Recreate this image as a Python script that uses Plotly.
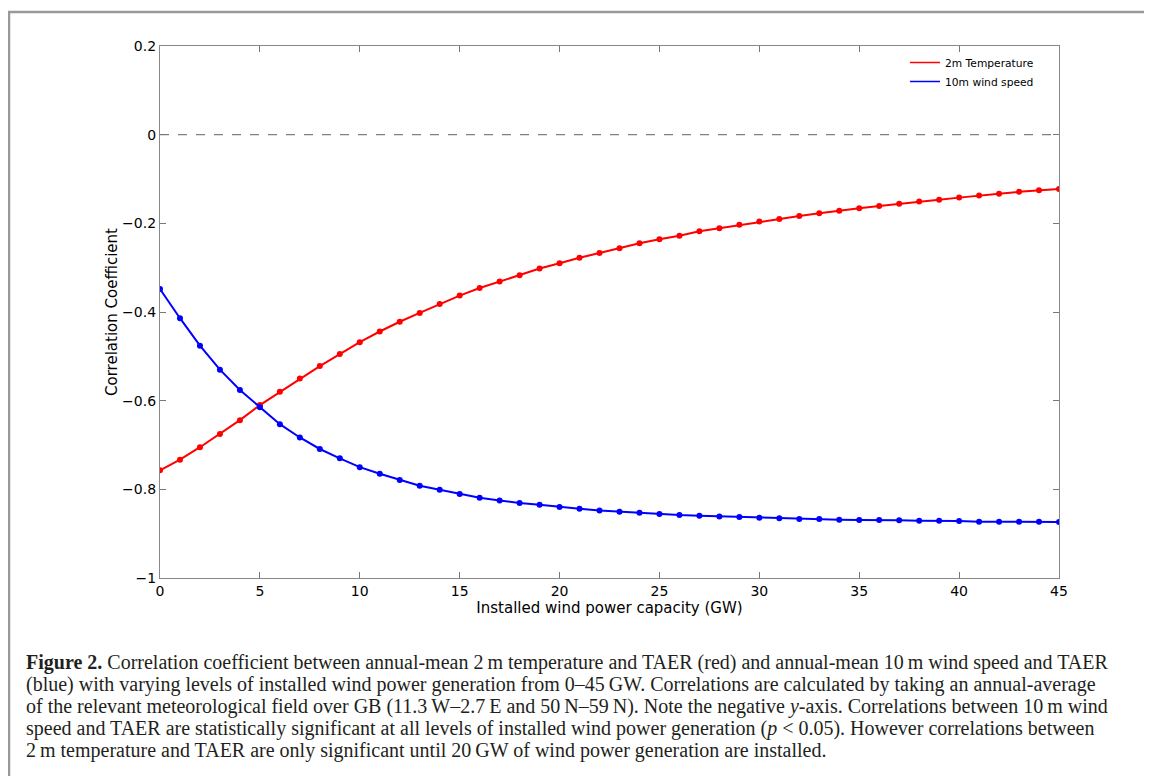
import plotly.graph_objects as go

capacity_gw = list(range(0, 46))

temp_corr = [-0.757, -0.733, -0.705, -0.675, -0.644, -0.610, -0.580, -0.550, -0.522, -0.495,
             -0.468, -0.444, -0.422, -0.402, -0.382, -0.363, -0.346, -0.331, -0.317, -0.302,
             -0.290, -0.2775, -0.267, -0.256, -0.245, -0.236, -0.228, -0.218, -0.211, -0.203,
             -0.196, -0.190, -0.1835, -0.1775, -0.1714, -0.166, -0.161, -0.1557, -0.151, -0.1466,
             -0.142, -0.137, -0.133, -0.129, -0.1256, -0.1225]

wind_corr = [-0.348, -0.414, -0.476, -0.530, -0.576, -0.615, -0.653, -0.683, -0.709, -0.730,
             -0.750, -0.765, -0.779, -0.792, -0.801, -0.8105, -0.819, -0.825, -0.831, -0.835,
             -0.840, -0.8437, -0.8475, -0.8505, -0.8527, -0.8557, -0.858, -0.8595, -0.861, -0.8624,
             -0.864, -0.8655, -0.867, -0.867, -0.8685, -0.869, -0.869, -0.870, -0.8707, -0.8707,
             -0.8715, -0.873, -0.873, -0.873, -0.873, -0.8737]

x_ticks = [0, 5, 10, 15, 20, 25, 30, 35, 40, 45]
y_ticks = [0.2, 0, -0.2, -0.4, -0.6, -0.8, -1]
y_tick_labels = ["0.2", "0", "\u22120.2", "\u22120.4", "\u22120.6", "\u22120.8", "\u22121"]

caption_lines = [
    "<b>Figure 2.</b> Correlation coefficient between annual-mean 2\u2009m temperature and TAER (red) and annual-mean 10\u2009m wind speed and TAER",
    "(blue) with varying levels of installed wind power generation from 0\u201345\u2009GW. Correlations are calculated by taking an annual-average",
    "of the relevant meteorological field over GB (11.3\u2009W\u20132.7\u2009E and 50\u2009N\u201359\u2009N). Note the negative <i>y</i>-axis. Correlations between 10\u2009m wind",
    "speed and TAER are statistically significant at all levels of installed wind power generation (<i>p</i> &lt; 0.05). However correlations between",
    "2\u2009m temperature and TAER are only significant until 20\u2009GW of wind power generation are installed.",
]

# page offset of the plot div (body margin)
OFF = 8
PX0, PX1, PY0, PY1 = 160, 1059, 46, 578  # plot area in page pixels
W, H = 1152 - OFF, 776 - OFF
PW, PH = PX1 - PX0, PY1 - PY0


def px_x(px):
    return (px - PX0) / PW


def px_y(py):
    return (PY1 - py) / PH


fig = go.Figure()

# zero reference line
fig.add_trace(go.Scatter(x=[capacity_gw[0], capacity_gw[-1]], y=[0, 0], mode="lines",
                         line=dict(color="#808080", width=1.3, dash="dash"),
                         showlegend=False, hoverinfo="skip"))

fig.add_trace(go.Scatter(x=capacity_gw, y=temp_corr, mode="lines+markers", name="2m Temperature",
                         line=dict(color="#ff0000", width=2), marker=dict(size=6, color="#ff0000"),
                         showlegend=False))
fig.add_trace(go.Scatter(x=capacity_gw, y=wind_corr, mode="lines+markers", name="10m wind speed",
                         line=dict(color="#0000ff", width=2), marker=dict(size=6, color="#0000ff"),
                         showlegend=False))
# legend entries (line only, as in the reference)
fig.add_trace(go.Scatter(x=[None], y=[None], mode="lines", name="2m Temperature",
                         line=dict(color="#ff0000", width=1.5)))
fig.add_trace(go.Scatter(x=[None], y=[None], mode="lines", name="10m wind speed",
                         line=dict(color="#0000ff", width=1.5)))

axis_font = dict(family="DejaVu Sans", size=14, color="#000000")

fig.update_xaxes(range=[0, 45], tickvals=x_ticks, ticks="inside", ticklen=6, tickcolor="#777777",
                 showline=True, linecolor="#888888", linewidth=1.3, mirror="ticks",
                 showgrid=False, zeroline=False, tickfont=axis_font,
                 title=dict(text="Installed wind power capacity (GW)",
                            font=dict(family="DejaVu Sans", size=15, color="#000"), standoff=2))
fig.update_yaxes(range=[-1, 0.2], tickvals=y_ticks, ticktext=y_tick_labels, ticks="inside", ticklen=6,
                 tickcolor="#777777", showline=True, linecolor="#888888", linewidth=1.3, mirror="ticks",
                 showgrid=False, zeroline=False, tickfont=axis_font,
                 title=dict(text="Correlation Coefficient",
                            font=dict(family="DejaVu Sans", size=15, color="#000"), standoff=0))

annotations = []
for i, line in enumerate(caption_lines):
    annotations.append(dict(text=line, xref="paper", yref="paper", x=px_x(24), xanchor="left",
                            y=px_y(662 + 22 * i), yanchor="middle", showarrow=False,
                            font=dict(family="Liberation Serif", size=20, color="#231f20"), align="left"))

frame_style = dict(color="#999999", width=2.5)

fig.update_layout(
    width=W, height=H,
    margin=dict(l=PX0 - OFF, r=W - (PX1 - OFF), t=PY0 - OFF, b=H - (PY1 - OFF), autoexpand=False),
    paper_bgcolor="white", plot_bgcolor="white",
    legend=dict(x=px_x(905), y=px_y(48), xanchor="left", yanchor="top", bgcolor="rgba(255,255,255,0)",
                font=dict(family="DejaVu Sans", size=10.7, color="#000"), tracegroupgap=0,
                itemwidth=30),
    annotations=annotations,
    shapes=[
        dict(type="line", xref="paper", yref="paper", x0=px_x(9), x1=px_x(9),
             y0=px_y(800), y1=px_y(11), line=frame_style, layer="below"),
        dict(type="line", xref="paper", yref="paper", x0=px_x(8), x1=px_x(1200),
             y0=px_y(12), y1=px_y(12), line=frame_style, layer="below"),
    ],
)

fig.write_html("out.html")
